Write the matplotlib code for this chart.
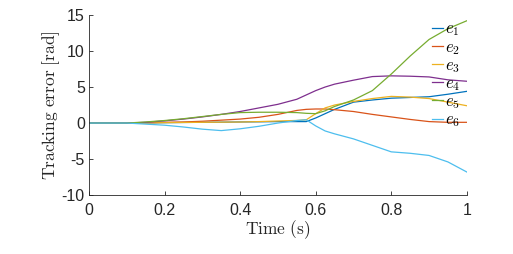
import numpy as np
import matplotlib
matplotlib.use("Agg")
import matplotlib.pyplot as plt

plt.rcParams['mathtext.fontset'] = 'cm'
plt.rcParams['font.family'] = ['Liberation Sans', 'DejaVu Sans']
plt.rcParams['axes.unicode_minus'] = False

# time samples (s) and tracking errors (rad)
t = [0, 0.05, 0.1, 0.15, 0.2, 0.25, 0.3, 0.35, 0.4, 0.45, 0.5, 0.55, 0.575,
     0.6, 0.625, 0.65, 0.7, 0.75, 0.8, 0.85, 0.9, 0.95, 1.0]
e1 = [0, 0, 0, 0.02, 0.05, 0.08, 0.1, 0.12, 0.15, 0.17, 0.2, 0.2, 0.2,
      0.7, 1.3, 1.9, 2.9, 3.2, 3.45, 3.55, 3.65, 4.0, 4.4]
e2 = [0, 0, 0, 0.05, 0.1, 0.15, 0.25, 0.4, 0.55, 0.8, 1.2, 1.75, 1.9,
      1.95, 1.95, 1.85, 1.6, 1.2, 0.85, 0.5, 0.2, 0.1, 0.1]
e3 = [0, 0, 0, 0.02, 0.05, 0.08, 0.1, 0.12, 0.14, 0.2, 0.28, 0.36, 0.45,
      1.3, 2.1, 2.5, 3.0, 3.4, 3.7, 3.6, 3.4, 2.9, 2.4]
e4 = [0, 0, 0, 0.1, 0.3, 0.55, 0.85, 1.2, 1.6, 2.1, 2.6, 3.3, 3.9,
      4.5, 5.0, 5.4, 5.95, 6.45, 6.55, 6.5, 6.4, 6.0, 5.8]
e5 = [0, 0, 0, 0.15, 0.35, 0.6, 0.9, 1.2, 1.45, 1.5, 1.5, 1.45, 1.35,
      1.3, 1.7, 2.3, 3.2, 4.5, 6.8, 9.3, 11.6, 13.1, 14.2]
e6 = [0, 0, 0, -0.15, -0.3, -0.55, -0.85, -1.05, -0.8, -0.45, 0.0, 0.35, 0.45,
      -0.4, -1.1, -1.5, -2.2, -3.1, -4.0, -4.2, -4.5, -5.4, -6.8]

series = [e1, e2, e3, e4, e5, e6]
labels = ['$e_1$', '$e_2$', '$e_3$', '$e_4$', '$e_5$', '$e_6$']
colors = ['#0072BD', '#D95319', '#EDB120', '#7E2F8E', '#77AC30', '#4DBEEE']

fig = plt.figure(figsize=(5.13, 2.54), dpi=100)
ax = fig.add_axes([0.1735, 0.232, 0.7365, 0.709])

for y, lab, c in zip(series, labels, colors):
    ax.plot(t, y, color=c, lw=0.9, label=lab)

ax.set_xlim(0, 1)
ax.set_ylim(-10, 15)
ax.set_xticks([0, 0.2, 0.4, 0.6, 0.8, 1])
ax.set_xticklabels(['0', '0.2', '0.4', '0.6', '0.8', '1'])
ax.set_yticks([-10, -5, 0, 5, 10, 15])

for s in ['top', 'right']:
    ax.spines[s].set_visible(False)
for s in ['left', 'bottom']:
    ax.spines[s].set_color('#262626')
    ax.spines[s].set_linewidth(0.6)
ax.tick_params(direction='in', length=3, width=0.6, colors='#262626',
               labelsize=11.5)
ax.tick_params(axis='x', pad=6)
ax.tick_params(axis='y', pad=3)

ax.set_xlabel(r'$\mathrm{Time\ (s)}$', fontsize=12.5, color='#262626', labelpad=0)
ax.set_ylabel(r'$\mathrm{Tracking\ error\ [rad]}$', fontsize=12.5, color='#262626',
              labelpad=0)

ax.legend(loc='upper right', frameon=False, fontsize=12, handlelength=0.65,
          handletextpad=0.1, labelspacing=0.08, borderaxespad=0.0,
          bbox_to_anchor=(1.0, 1.0))

fig.savefig('out.png', dpi=100)
